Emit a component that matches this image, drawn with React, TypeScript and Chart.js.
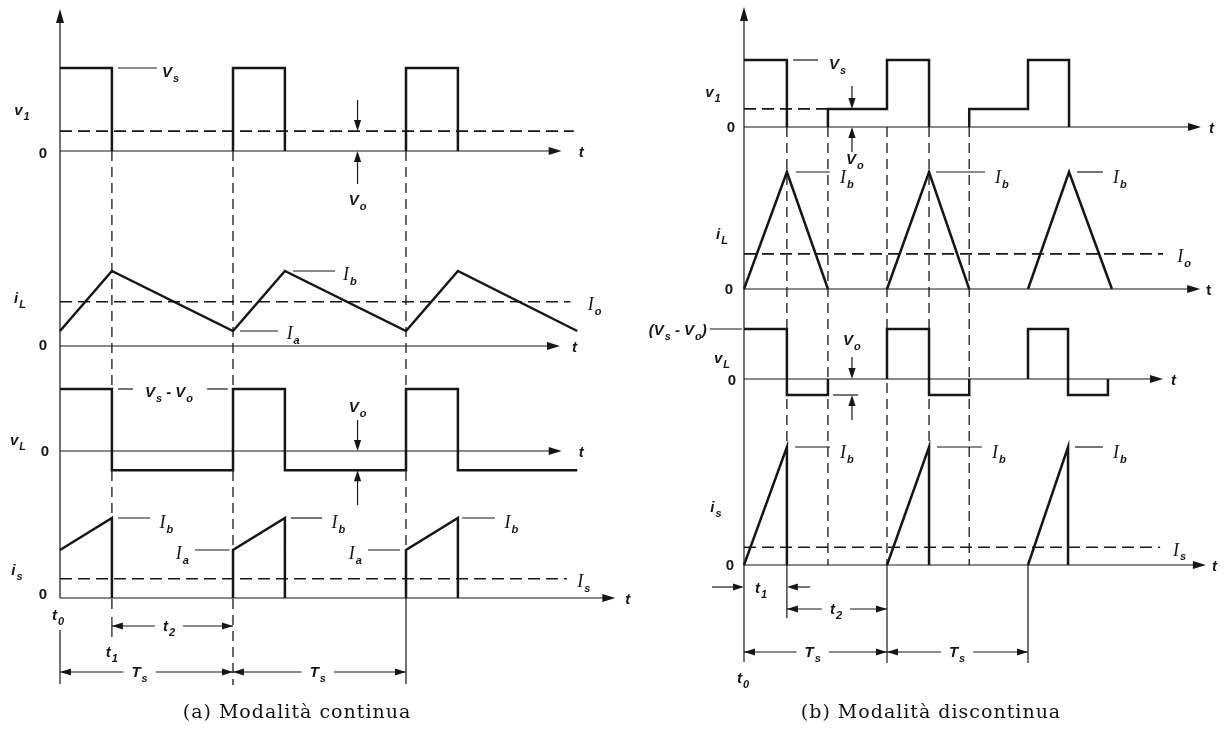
import React, { useEffect, useRef } from "react";
import { Chart, registerables } from "chart.js";

Chart.register(...registerables);

const W = 1227;
const H = 735;
const INK = "#161616";
const SANS = '"Liberation Sans", Arial, sans-serif';
const SERIF = '"Liberation Serif", "Times New Roman", serif';

// ---------- (a) Modalità continua — time in units of Ts ----------
const contV1Time = [0, 0.3, 0.3, 0.3, 1, 1, 1.3, 1.3, 1.3, 2, 2, 2.3, 2.3];
const contV1Val = [1, 1, 0, null, 0, 1, 1, 0, null, 0, 1, 1, 0];
const contILTime = [0, 0.3, 1, 1.3, 2, 2.3, 2.99];
const contILVal = [0.2, 1, 0.2, 1, 0.2, 1, 0.2];
const contVLTime = [0, 0.3, 0.3, 1, 1, 1.3, 1.3, 2, 2, 2.3, 2.3, 2.99];
const contVLVal = [1, 1, -0.31, -0.31, 1, 1, -0.31, -0.31, 1, 1, -0.31, -0.31];
const contISTime = [0, 0.3, 0.3, 0.3, 1, 1, 1.3, 1.3, 1.3, 2, 2, 2.3, 2.3];
const contISVal = [0.6, 1, 0, null, 0, 0.6, 1, 0, null, 0, 0.6, 1, 0];
const contVo = 0.24;
const contIo = 0.59;
const contIs = 0.24;

// ---------- (b) Modalità discontinua ----------
const discV1Time = [0, 0.3, 0.3, 0.3, 0.587, 0.587, 1, 1, 1.294, 1.294, 1.294, 1.575, 1.575, 1.986, 1.986, 2.273, 2.273];
const discV1Val = [1, 1, 0, null, 0, 0.27, 0.27, 1, 1, 0, null, 0, 0.27, 0.27, 1, 1, 0];
const discILTime = [0, 0.3, 0.587, 0.587, 1, 1.294, 1.575, 1.575, 1.986, 2.273, 2.573];
const discILVal = [0, 1, 0, null, 0, 1, 0, null, 0, 1, 0];
const discVLTime = [0, 0.3, 0.3, 0.587, 0.587, 0.587, 1, 1, 1.294, 1.294, 1.575, 1.575, 1.575, 1.986, 1.986, 2.266, 2.266, 2.545, 2.545];
const discVLVal = [1, 1, -0.32, -0.32, 0, null, 0, 1, 1, -0.32, -0.32, 0, null, 0, 1, 1, -0.32, -0.32, 0];
const discISTime = [0, 0.3, 0.3, 0.3, 1, 1.294, 1.294, 1.294, 1.986, 2.266, 2.266];
const discISVal = [0, 1, 0, null, 0, 1, 0, null, 0, 1, 0];
const discVo = 0.27;
const discIo = 0.3;
const discIs = 0.15;

type P = [string, string];

const pts = (t: number[], v: (number | null)[]) => t.map((x, i) => ({ x, y: v[i] }));

function seg(ctx: any, x1: number, y1: number, x2: number, y2: number, w = 1.2, dash: number[] = []) {
  ctx.save();
  ctx.strokeStyle = INK;
  ctx.lineWidth = w;
  ctx.setLineDash(dash);
  ctx.beginPath();
  ctx.moveTo(x1, y1);
  ctx.lineTo(x2, y2);
  ctx.stroke();
  ctx.restore();
}

function head(ctx: any, x: number, y: number, dir: string, len = 11, half = 3.6) {
  ctx.save();
  ctx.fillStyle = INK;
  ctx.beginPath();
  ctx.moveTo(x, y);
  if (dir === "r") { ctx.lineTo(x - len, y - half); ctx.lineTo(x - len, y + half); }
  if (dir === "l") { ctx.lineTo(x + len, y - half); ctx.lineTo(x + len, y + half); }
  if (dir === "u") { ctx.lineTo(x - half, y + len); ctx.lineTo(x + half, y + len); }
  if (dir === "d") { ctx.lineTo(x - half, y - len); ctx.lineTo(x + half, y - len); }
  ctx.closePath();
  ctx.fill();
  ctx.restore();
}

function mainFont(m: string, size: number, style: string) {
  if (m === "I") return `italic ${size + 3}px ${SERIF}`;
  return `${style} ${size}px ${SANS}`;
}

function richWidth(ctx: any, parts: P[], size = 15, style = "italic bold") {
  let w = 0;
  for (const [m, s] of parts) {
    ctx.font = mainFont(m, size, style);
    w += ctx.measureText(m).width;
    if (s) {
      ctx.font = `${style} ${Math.round(size * 0.7)}px ${SANS}`;
      w += ctx.measureText(s).width + 1;
    }
  }
  return w;
}

function rich(ctx: any, parts: P[], x: number, y: number, align = "left", size = 15, style = "italic bold") {
  const w = richWidth(ctx, parts, size, style);
  let cx = align === "left" ? x : align === "center" ? x - w / 2 : x - w;
  const base = y + size * 0.36;
  ctx.save();
  ctx.fillStyle = INK;
  ctx.textAlign = "left";
  ctx.textBaseline = "alphabetic";
  for (const [m, s] of parts) {
    ctx.font = mainFont(m, size, style);
    ctx.fillText(m, cx, base);
    cx += ctx.measureText(m).width;
    if (s) {
      ctx.font = `${style} ${Math.round(size * 0.7)}px ${SANS}`;
      cx += 1;
      ctx.fillText(s, cx, base + size * 0.3);
      cx += ctx.measureText(s).width;
    }
  }
  ctx.restore();
}

function zero(ctx: any, x: number, y: number) {
  ctx.save();
  ctx.fillStyle = INK;
  ctx.font = `bold 15px ${SANS}`;
  ctx.textAlign = "center";
  ctx.textBaseline = "middle";
  ctx.fillText("0", x, y + 1);
  ctx.restore();
}

function dim(ctx: any, x1: number, x2: number, y: number, parts: P[], cx: number) {
  const g = richWidth(ctx, parts) / 2 + 8;
  seg(ctx, x1, y, cx - g, y);
  seg(ctx, cx + g, y, x2, y);
  head(ctx, x1, y, "l");
  head(ctx, x2, y, "r");
  rich(ctx, parts, cx, y, "center");
}

const diagramPlugin = {
  id: "diagram",
  beforeDatasetsDraw(chart: any) {
    const ctx = chart.ctx;
    const s = chart.scales;
    const xa = (t: number) => s.xa.getPixelForValue(t);
    const xb = (t: number) => s.xb.getPixelForValue(t);
    const Y = (id: string, v: number) => s[id].getPixelForValue(v);
    const D = [10, 6];

    // ---- (a) axes ----
    seg(ctx, xa(0), Y("a_is", 0), xa(0), 18);
    head(ctx, xa(0), 9, "u", 14, 4);
    const aTips: [string, number][] = [["a_v1", 2.9], ["a_iL", 2.89], ["a_vL", 2.9], ["a_is", 3.21]];
    for (const [id, tip] of aTips) {
      seg(ctx, xa(0), Y(id, 0), xa(tip) - 8, Y(id, 0));
      head(ctx, xa(tip), Y(id, 0), "r", 13, 4);
    }
    seg(ctx, xa(0.3), Y("a_v1", 0), xa(0.3), 609, 1.3, D);
    seg(ctx, xa(1), Y("a_v1", 0), xa(1), 685, 1.3, D);
    seg(ctx, xa(2), Y("a_v1", 0), xa(2), Y("a_is", 0), 1.3, D);
    seg(ctx, xa(0), 630, xa(0), 684);
    seg(ctx, xa(0.3), 617, xa(0.3), 637);
    seg(ctx, xa(2), Y("a_is", 0), xa(2), 684);

    // ---- (b) axes ----
    seg(ctx, xb(0), 662, xb(0), 16);
    head(ctx, xb(0), 7, "u", 14, 4);
    const bTips: [string, number][] = [["b_v1", 3.196], ["b_iL", 3.19], ["b_vL", 2.93], ["b_is", 3.23]];
    for (const [id, tip] of bTips) {
      seg(ctx, xb(0), Y(id, 0), xb(tip) - 8, Y(id, 0));
      head(ctx, xb(tip), Y(id, 0), "r", 13, 4);
    }
    seg(ctx, xb(0.3), Y("b_v1", 0), xb(0.3), Y("b_is", 1), 1.3, D);
    seg(ctx, xb(0.587), Y("b_v1", 0), xb(0.587), Y("b_is", 0), 1.3, D);
    seg(ctx, xb(1), Y("b_v1", 0), xb(1), Y("b_is", 0), 1.3, D);
    seg(ctx, xb(1.294), Y("b_v1", 0), xb(1.294), Y("b_is", 1), 1.3, D);
    seg(ctx, xb(1.575), Y("b_v1", 0), xb(1.575), Y("b_is", 0), 1.3, D);
    seg(ctx, xb(0.3), Y("b_is", 0), xb(0.3), 618);
    seg(ctx, xb(1), Y("b_is", 0), xb(1), 663);
    seg(ctx, xb(1.986), Y("b_is", 0), xb(1.986), 663);
  },
  afterDatasetsDraw(chart: any) {
    const ctx = chart.ctx;
    const s = chart.scales;
    const xa = (t: number) => s.xa.getPixelForValue(t);
    const xb = (t: number) => s.xb.getPixelForValue(t);
    const Y = (id: string, v: number) => s[id].getPixelForValue(v);

    // ======== (a) ========
    rich(ctx, [["t", ""]], xa(2.9) + 17, Y("a_v1", 0) + 1);
    rich(ctx, [["t", ""]], xa(2.89) + 12, Y("a_iL", 0) + 1);
    rich(ctx, [["t", ""]], xa(2.9) + 17, Y("a_vL", 0) + 1);
    rich(ctx, [["t", ""]], xa(3.21) + 10, Y("a_is", 0) + 1);
    rich(ctx, [["v", "1"]], 22, 110, "center");
    rich(ctx, [["i", "L"]], 20, 298, "center");
    rich(ctx, [["v", "L"]], 18, 440, "center");
    rich(ctx, [["i", "s"]], 17, 570, "center");
    zero(ctx, 43, Y("a_v1", 0) + 2);
    zero(ctx, 43, Y("a_iL", 0) - 1);
    zero(ctx, 45, Y("a_vL", 0));
    zero(ctx, 43, Y("a_is", 0) - 4);
    // v1
    seg(ctx, xa(0.335), Y("a_v1", 1), xa(0.56), Y("a_v1", 1));
    rich(ctx, [["V", "s"]], xa(0.59), Y("a_v1", 1) + 4);
    seg(ctx, xa(1.72), 100, xa(1.72), Y("a_v1", contVo) - 8);
    head(ctx, xa(1.72), Y("a_v1", contVo), "d");
    seg(ctx, xa(1.72), 184, xa(1.72), Y("a_v1", 0) + 8);
    head(ctx, xa(1.72), Y("a_v1", 0), "u");
    rich(ctx, [["V", "o"]], xa(1.72), 200, "center");
    // iL
    seg(ctx, xa(1.347), Y("a_iL", 1), xa(1.59), Y("a_iL", 1));
    rich(ctx, [["I", "b"]], xa(1.636), Y("a_iL", 1) + 4);
    seg(ctx, xa(1.04), Y("a_iL", 0.2), xa(1.26), Y("a_iL", 0.2));
    rich(ctx, [["I", "a"]], xa(1.31), Y("a_iL", 0.2) + 3);
    rich(ctx, [["I", "o"]], xa(3.05), Y("a_iL", contIo) + 3);
    // vL
    seg(ctx, xa(0.335), Y("a_vL", 1), xa(0.422), Y("a_vL", 1));
    seg(ctx, xa(0.85), Y("a_vL", 1), xa(0.97), Y("a_vL", 1));
    rich(ctx, [["V", "s"], [" - V", "o"]], xa(0.63), Y("a_vL", 1) + 3, "center");
    seg(ctx, xa(1.72), 420, xa(1.72), Y("a_vL", 0) - 8);
    head(ctx, xa(1.72), Y("a_vL", 0), "d");
    seg(ctx, xa(1.72), 505, xa(1.72), Y("a_vL", -0.31) + 8);
    head(ctx, xa(1.72), Y("a_vL", -0.31), "u");
    rich(ctx, [["V", "o"]], xa(1.72), 407, "center");
    // is
    const ibA = [[0.335, 0.52, 0.575], [1.335, 1.514, 1.57], [2.324, 2.514, 2.57]];
    for (const [a, b, c] of ibA) {
      seg(ctx, xa(a), Y("a_is", 1), xa(b), Y("a_is", 1));
      rich(ctx, [["I", "b"]], xa(c), Y("a_is", 1) + 5);
    }
    const iaA = [[0.78, 0.98], [1.78, 1.965]];
    for (const [a, b] of iaA) {
      seg(ctx, xa(a), Y("a_is", 0.6), xa(b), Y("a_is", 0.6));
      rich(ctx, [["I", "a"]], xa(a) - 6, Y("a_is", 0.6) + 4, "right");
    }
    rich(ctx, [["I", "s"]], xa(2.99), Y("a_is", contIs) + 3);
    // timing
    rich(ctx, [["t", "0"]], xa(0) - 2, 615, "center");
    dim(ctx, xa(0.3), xa(1), 626, [["t", "2"]], xa(0.63));
    rich(ctx, [["t", "1"]], xa(0.3), 652, "center");
    dim(ctx, xa(0), xa(1), 672, [["T", "s"]], xa(0.46));
    dim(ctx, xa(1), xa(2), 672, [["T", "s"]], xa(1.49));

    // ======== (b) ========
    rich(ctx, [["t", ""]], xb(3.196) + 8, Y("b_v1", 0) + 1);
    rich(ctx, [["t", ""]], xb(3.19) + 6, Y("b_iL", 0) + 1, "left", 15, "bold");
    rich(ctx, [["t", ""]], xb(2.93) + 8, Y("b_vL", 0) + 1);
    rich(ctx, [["t", ""]], xb(3.23) + 6, Y("b_is", 0) + 1);
    rich(ctx, [["v", "1"]], 713, 92, "center");
    rich(ctx, [["i", "L"]], 722, 234, "center");
    rich(ctx, [["v", "L"]], 722, 358, "center");
    rich(ctx, [["i", "s"]], 716, 507, "center");
    zero(ctx, 731, Y("b_v1", 0));
    zero(ctx, 729, Y("b_iL", 0));
    zero(ctx, 732, Y("b_vL", 0) + 1);
    zero(ctx, 730, Y("b_is", 0));
    // v1
    seg(ctx, xb(0.343), Y("b_v1", 1), xb(0.517), Y("b_v1", 1));
    rich(ctx, [["V", "s"]], xb(0.594), Y("b_v1", 1) + 4);
    seg(ctx, xb(0.755), 86, xb(0.755), Y("b_v1", discVo) - 8);
    head(ctx, xb(0.755), Y("b_v1", discVo), "d");
    seg(ctx, xb(0.755), 152, xb(0.755), Y("b_v1", 0) + 8);
    head(ctx, xb(0.755), Y("b_v1", 0), "u");
    rich(ctx, [["V", "o"]], xb(0.775), 159, "center");
    // iL
    const ibB = [[0.364, 0.601, 0.671], [1.343, 1.685, 1.755], [2.329, 2.51, 2.58]];
    for (const [a, b, c] of ibB) {
      seg(ctx, xb(a), Y("b_iL", 1), xb(b), Y("b_iL", 1));
      rich(ctx, [["I", "b"]], xb(c), Y("b_iL", 1) + 6);
    }
    rich(ctx, [["I", "o"]], xb(3.03), Y("b_iL", discIo) + 3);
    // vL
    seg(ctx, xb(-0.24), Y("b_vL", 1), xb(-0.014), Y("b_vL", 1));
    rich(ctx, [["(V", "s"], [" - V", "o"], [")", ""]], xb(-0.26), Y("b_vL", 1) + 1, "right");
    seg(ctx, xb(0.755), 357, xb(0.755), Y("b_vL", 0) - 8);
    head(ctx, xb(0.755), Y("b_vL", 0), "d");
    seg(ctx, xb(0.755), 420, xb(0.755), Y("b_vL", -0.32) + 8);
    head(ctx, xb(0.755), Y("b_vL", -0.32), "u");
    seg(ctx, xb(0.622), Y("b_vL", -0.32), xb(0.797), Y("b_vL", -0.32));
    rich(ctx, [["V", "o"]], xb(0.755), 340, "center");
    // is
    const ibBs = [[0.357, 0.601, 0.671], [1.35, 1.664, 1.734], [2.315, 2.51, 2.58]];
    for (const [a, b, c] of ibBs) {
      seg(ctx, xb(a), Y("b_is", 1), xb(b), Y("b_is", 1));
      rich(ctx, [["I", "b"]], xb(c), Y("b_is", 1) + 6);
    }
    rich(ctx, [["I", "s"]], xb(3.0), Y("b_is", discIs) + 3);
    // timing
    seg(ctx, xb(-0.224), 587, xb(0) - 8, 587);
    head(ctx, xb(0), 587, "r");
    rich(ctx, [["t", "1"]], xb(0.12), 588, "center");
    seg(ctx, xb(0.462), 587, xb(0.3) + 8, 587);
    head(ctx, xb(0.3), 587, "l");
    dim(ctx, xb(0.3), xb(1), 609, [["t", "2"]], xb(0.643));
    dim(ctx, xb(0), xb(1), 652, [["T", "s"]], xb(0.48));
    dim(ctx, xb(1), xb(1.986), 652, [["T", "s"]], xb(1.49));
    rich(ctx, [["t", "0"]], xb(0) - 1, 678, "center");

    // captions
    ctx.save();
    ctx.fillStyle = "#111";
    ctx.font = '19px "DejaVu Serif", serif';
    try { ctx.letterSpacing = "1px"; } catch (e) { /* ignore */ }
    ctx.textAlign = "center";
    ctx.textBaseline = "alphabetic";
    ctx.fillText("(a) Modalità continua", 297, 718);
    ctx.fillText("(b) Modalità discontinua", 931, 718);
    ctx.restore();
  },
};

const xAxis = (x0: number, k: number) => ({
  type: "linear", axis: "x", position: "bottom", display: false, min: -x0 / k, max: (W - x0) / k,
});
const yAxis = (base: number, k: number) => ({
  type: "linear", axis: "y", position: "left", display: false, min: -(H - base) / k, max: base / k,
});

const wave = (data: any, xAxisID: string, yAxisID: string) => ({
  data, xAxisID, yAxisID, borderColor: INK, borderWidth: 2.5, pointRadius: 0, tension: 0,
  fill: false, spanGaps: false, borderJoinStyle: "miter", borderCapStyle: "butt",
});
const level = (t1: number, v: number, xAxisID: string, yAxisID: string) => ({
  ...wave(pts([0, t1], [v, v]), xAxisID, yAxisID), borderWidth: 1.6, borderDash: [12, 6],
});

export default function App() {
  const ref = useRef<HTMLCanvasElement>(null);
  useEffect(() => {
    const chart = new Chart(ref.current as HTMLCanvasElement, {
      type: "line",
      data: {
        datasets: [
          wave(pts(contV1Time, contV1Val), "xa", "a_v1"),
          wave(pts(contILTime, contILVal), "xa", "a_iL"),
          wave(pts(contVLTime, contVLVal), "xa", "a_vL"),
          wave(pts(contISTime, contISVal), "xa", "a_is"),
          level(2.97, contVo, "xa", "a_v1"),
          level(2.95, contIo, "xa", "a_iL"),
          level(2.93, contIs, "xa", "a_is"),
          wave(pts(discV1Time, discV1Val), "xb", "b_v1"),
          wave(pts(discILTime, discILVal), "xb", "b_iL"),
          wave(pts(discVLTime, discVLVal), "xb", "b_vL"),
          wave(pts(discISTime, discISVal), "xb", "b_is"),
          level(0.587, discVo, "xb", "b_v1"),
          level(2.93, discIo, "xb", "b_iL"),
          level(2.91, discIs, "xb", "b_is"),
        ] as any,
      },
      options: {
        animation: false,
        responsive: false,
        devicePixelRatio: 1,
        events: [],
        layout: { padding: 0 },
        plugins: { legend: { display: false }, tooltip: { enabled: false }, title: { display: false } },
        scales: {
          x: { display: false },
          y: { display: false },
          xa: xAxis(60, 173),
          xb: xAxis(744, 143),
          a_v1: yAxis(151, 83),
          a_iL: yAxis(346, 75),
          a_vL: yAxis(451, 62),
          a_is: yAxis(598, 80),
          b_v1: yAxis(127, 67),
          b_iL: yAxis(289, 117),
          b_vL: yAxis(379, 50),
          b_is: yAxis(565, 118),
        } as any,
      },
      plugins: [diagramPlugin as any],
    });
    return () => chart.destroy();
  }, []);
  return (
    <div style={{ position: "fixed", left: 0, top: 0, width: W, height: H, background: "#fff" }}>
      <canvas ref={ref} width={W} height={H} style={{ width: W, height: H, display: "block" }} />
    </div>
  );
}
